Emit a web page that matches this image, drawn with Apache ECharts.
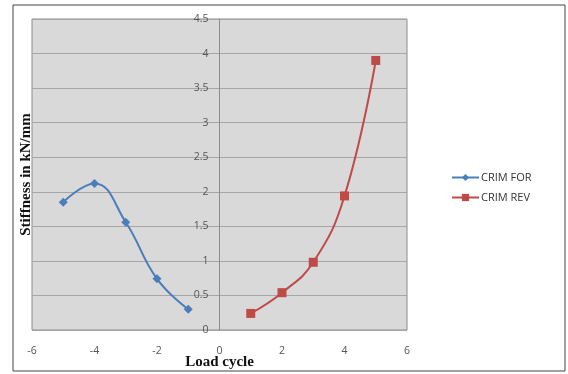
<!DOCTYPE html>
<html>
<head>
<meta charset="utf-8">
<script src="https://cdn.jsdelivr.net/npm/echarts@6/dist/echarts.min.js"></script>
<style>
  html, body { margin: 0; padding: 0; background: #fff; }
  #chart { width: 568px; height: 374px; }
</style>
</head>
<body>
<div id="chart"></div>
<script>
// Stiffness per load cycle, forward (negative cycles) and reverse (positive cycles)
const forCycles = [-5, -4, -3, -2, -1];
const forStiffness = [1.85, 2.12, 1.56, 0.74, 0.30];
const revCycles = [1, 2, 3, 4, 5];
const revStiffness = [0.24, 0.54, 0.98, 1.94, 3.90];
const seriesNames = ['CRIM FOR', 'CRIM REV'];

const chart = echarts.init(document.getElementById('chart'));

const pairs = (xs, ys) => xs.map((x, i) => [x, ys[i]]);

const gridLeft = 32, gridRight = 161;
const plotWidth = 568 - gridLeft - gridRight;
// shift the value axis so it sits on x = 0 (middle of the -6..6 range)
const zeroOffset = -plotWidth / 2;

chart.setOption({
  animation: false,
  backgroundColor: '#ffffff',
  graphic: [{
    type: 'rect',
    shape: { x: 13, y: 5, width: 552, height: 366 },
    style: { fill: 'none', stroke: '#444', lineWidth: 1 },
    silent: true,
    z: 100
  }],
  grid: {
    left: gridLeft, right: gridRight, top: 19, bottom: 44,
    outerBoundsMode: 'none',
    containLabel: false,
    show: true,
    backgroundColor: '#d9d9d9',
    borderColor: '#8c8c8c',
    borderWidth: 1
  },
  legend: {
    orient: 'vertical',
    left: 446, top: 167,
    itemWidth: 27, itemHeight: 9, itemGap: 9,
    textStyle: { fontFamily: 'Open Sans', fontSize: 11, color: '#333', padding: [0, 0, 0, -3] },
    data: seriesNames
  },
  xAxis: {
    type: 'value',
    min: -6, max: 6, interval: 2,
    name: 'Load cycle',
    nameLocation: 'middle',
    nameGap: 25,
    nameMoveOverlap: false,
    nameTextStyle: { fontFamily: 'Liberation Serif', fontWeight: 'bold', fontSize: 15, color: '#111' },
    axisLine: { show: false },
    axisTick: { show: false },
    axisLabel: { fontFamily: 'Open Sans', fontSize: 10.5, color: '#555', margin: 16 },
    splitLine: { show: false }
  },
  yAxis: [{
    type: 'value',
    min: 0, max: 4.5, interval: 0.5,
    position: 'left',
    offset: zeroOffset,
    axisLine: { show: true, onZero: false, lineStyle: { color: '#8c8c8c', width: 1 } },
    axisTick: { show: false },
    axisLabel: { fontFamily: 'Open Sans', fontSize: 10.5, color: '#555', margin: 11 },
    splitLine: { show: true, lineStyle: { color: '#a6a6a6', width: 1 } }
  }, {
    // carries only the axis title on the left margin
    type: 'value',
    min: 0, max: 4.5, interval: 0.5,
    position: 'left',
    offset: 0,
    name: 'Stiffness in kN/mm',
    nameLocation: 'middle',
    nameRotate: 90,
    nameGap: -2,
    nameTextStyle: { fontFamily: 'Liberation Serif', fontWeight: 'bold', fontSize: 15, color: '#111' },
    axisLine: { show: false },
    axisTick: { show: false },
    axisLabel: { show: false },
    splitLine: { show: false }
  }],
  series: [
    {
      name: seriesNames[0],
      type: 'line',
      data: pairs(forCycles, forStiffness),
      smooth: 0.45,
      symbol: 'diamond',
      symbolSize: 9,
      itemStyle: { color: '#4a7ebb' },
      lineStyle: { color: '#4a7ebb', width: 2 }
    },
    {
      name: seriesNames[1],
      type: 'line',
      data: pairs(revCycles, revStiffness),
      smooth: 0.45,
      symbol: 'rect',
      symbolSize: 9,
      itemStyle: { color: '#be4b48' },
      lineStyle: { color: '#be4b48', width: 2 }
    }
  ]
});
</script>
</body>
</html>
